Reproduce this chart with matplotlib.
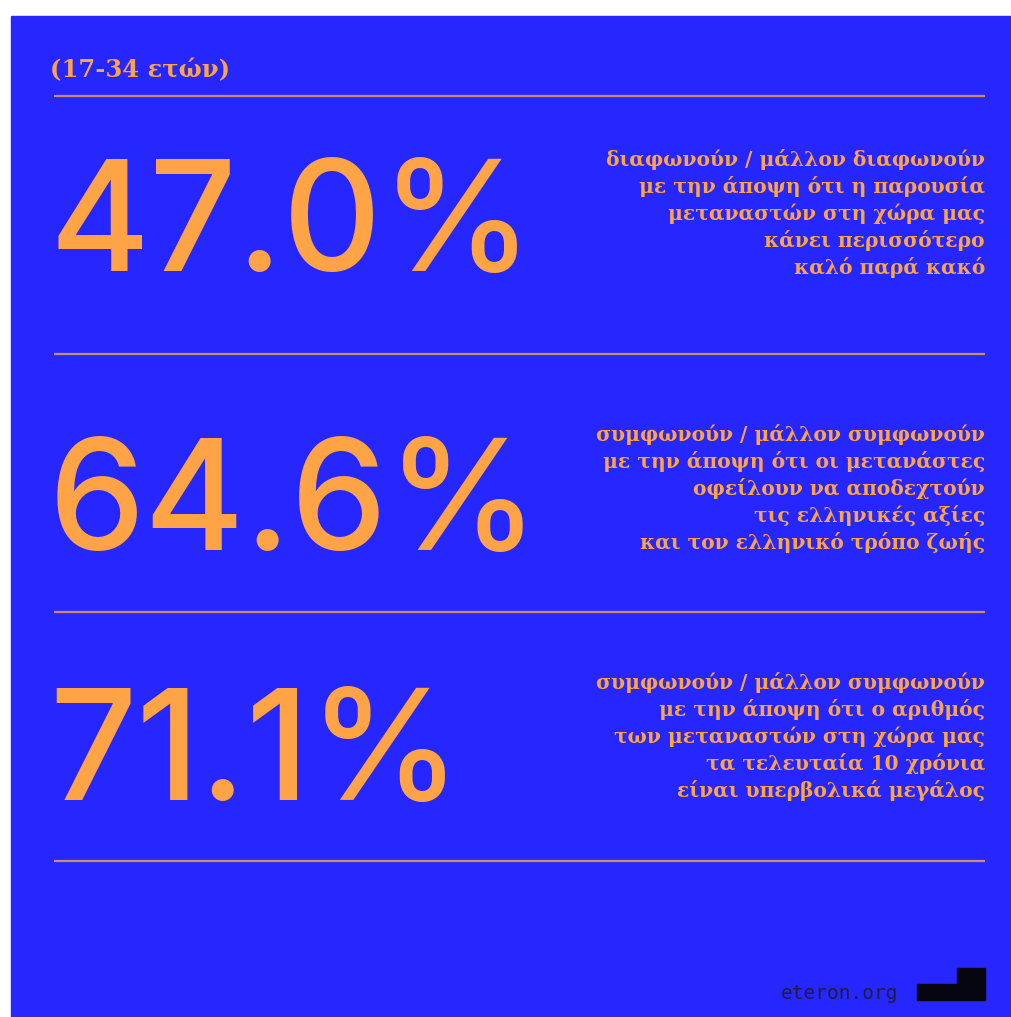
import matplotlib
matplotlib.use("Agg")
import matplotlib.pyplot as plt
from matplotlib.patches import Rectangle, Polygon

# Survey shares (age group 17-34)
AGE_GROUP = "(17-34 ετών)"
SHARES = [47.0, 64.6, 71.1]
DESCRIPTIONS = [
    "διαφωνούν / μάλλον διαφωνούν\nμε την άποψη ότι η παρουσία\nμεταναστών στη χώρα μας\nκάνει περισσότερο\nκαλό παρά κακό",
    "συμφωνούν / μάλλον συμφωνούν\nμε την άποψη ότι οι μετανάστες\nοφείλουν να αποδεχτούν\nτις ελληνικές αξίες\nκαι τον ελληνικό τρόπο ζωής",
    "συμφωνούν / μάλλον συμφωνούν\nμε την άποψη ότι ο αριθμός\nτων μεταναστών στη χώρα μας\nτα τελευταία 10 χρόνια\nείναι υπερβολικά μεγάλος",
]
SOURCE = "eteron.org"

BLUE = "#2626fe"
ORANGE = "#ffa347"
RULE = "#cc8c6a"

W, H = 1011, 1017
fig = plt.figure(figsize=(W / 100, H / 100), dpi=100)
fig.patch.set_facecolor("white")
ax = fig.add_axes([0, 0, 1, 1])
ax.set_xlim(0, W)
ax.set_ylim(H, 0)
ax.axis("off")

ax.add_patch(Rectangle((11, 16), W - 11, H - 16, color=BLUE, zorder=0))

ax.text(50, 77, AGE_GROUP, fontsize=17.5, fontweight="bold",
        family="DejaVu Serif", color=ORANGE, ha="left", va="baseline")

rules_y = [96, 354, 612, 861]
for y in rules_y:
    ax.plot([54, 985], [y, y], color=RULE, lw=1.6, solid_capstyle="butt")

num_base = [271, 550, 800]
desc_top = [149, 424, 672]
for v, desc, yb, yt in zip(SHARES, DESCRIPTIONS, num_base, desc_top):
    ax.text(49, yb, f"{v:.1f}%", fontsize=110, fontweight="medium",
            family="Inter", color=ORANGE, ha="left", va="baseline")
    ax.text(985, yt, desc, fontsize=14.6, fontweight="bold",
            family="DejaVu Serif", color=ORANGE, ha="right", va="top",
            multialignment="right", linespacing=1.36)

ax.text(898, 999, SOURCE, fontsize=14, family="DejaVu Sans Mono",
        color="#1e1e40", ha="right", va="baseline")
ax.add_patch(Polygon([(917, 1000), (917, 984), (957, 984), (957, 968),
                      (985, 968), (985, 1000)], closed=True,
                     color="#05050f", zorder=2))

fig.savefig("out.png", dpi=100, facecolor=fig.get_facecolor())
